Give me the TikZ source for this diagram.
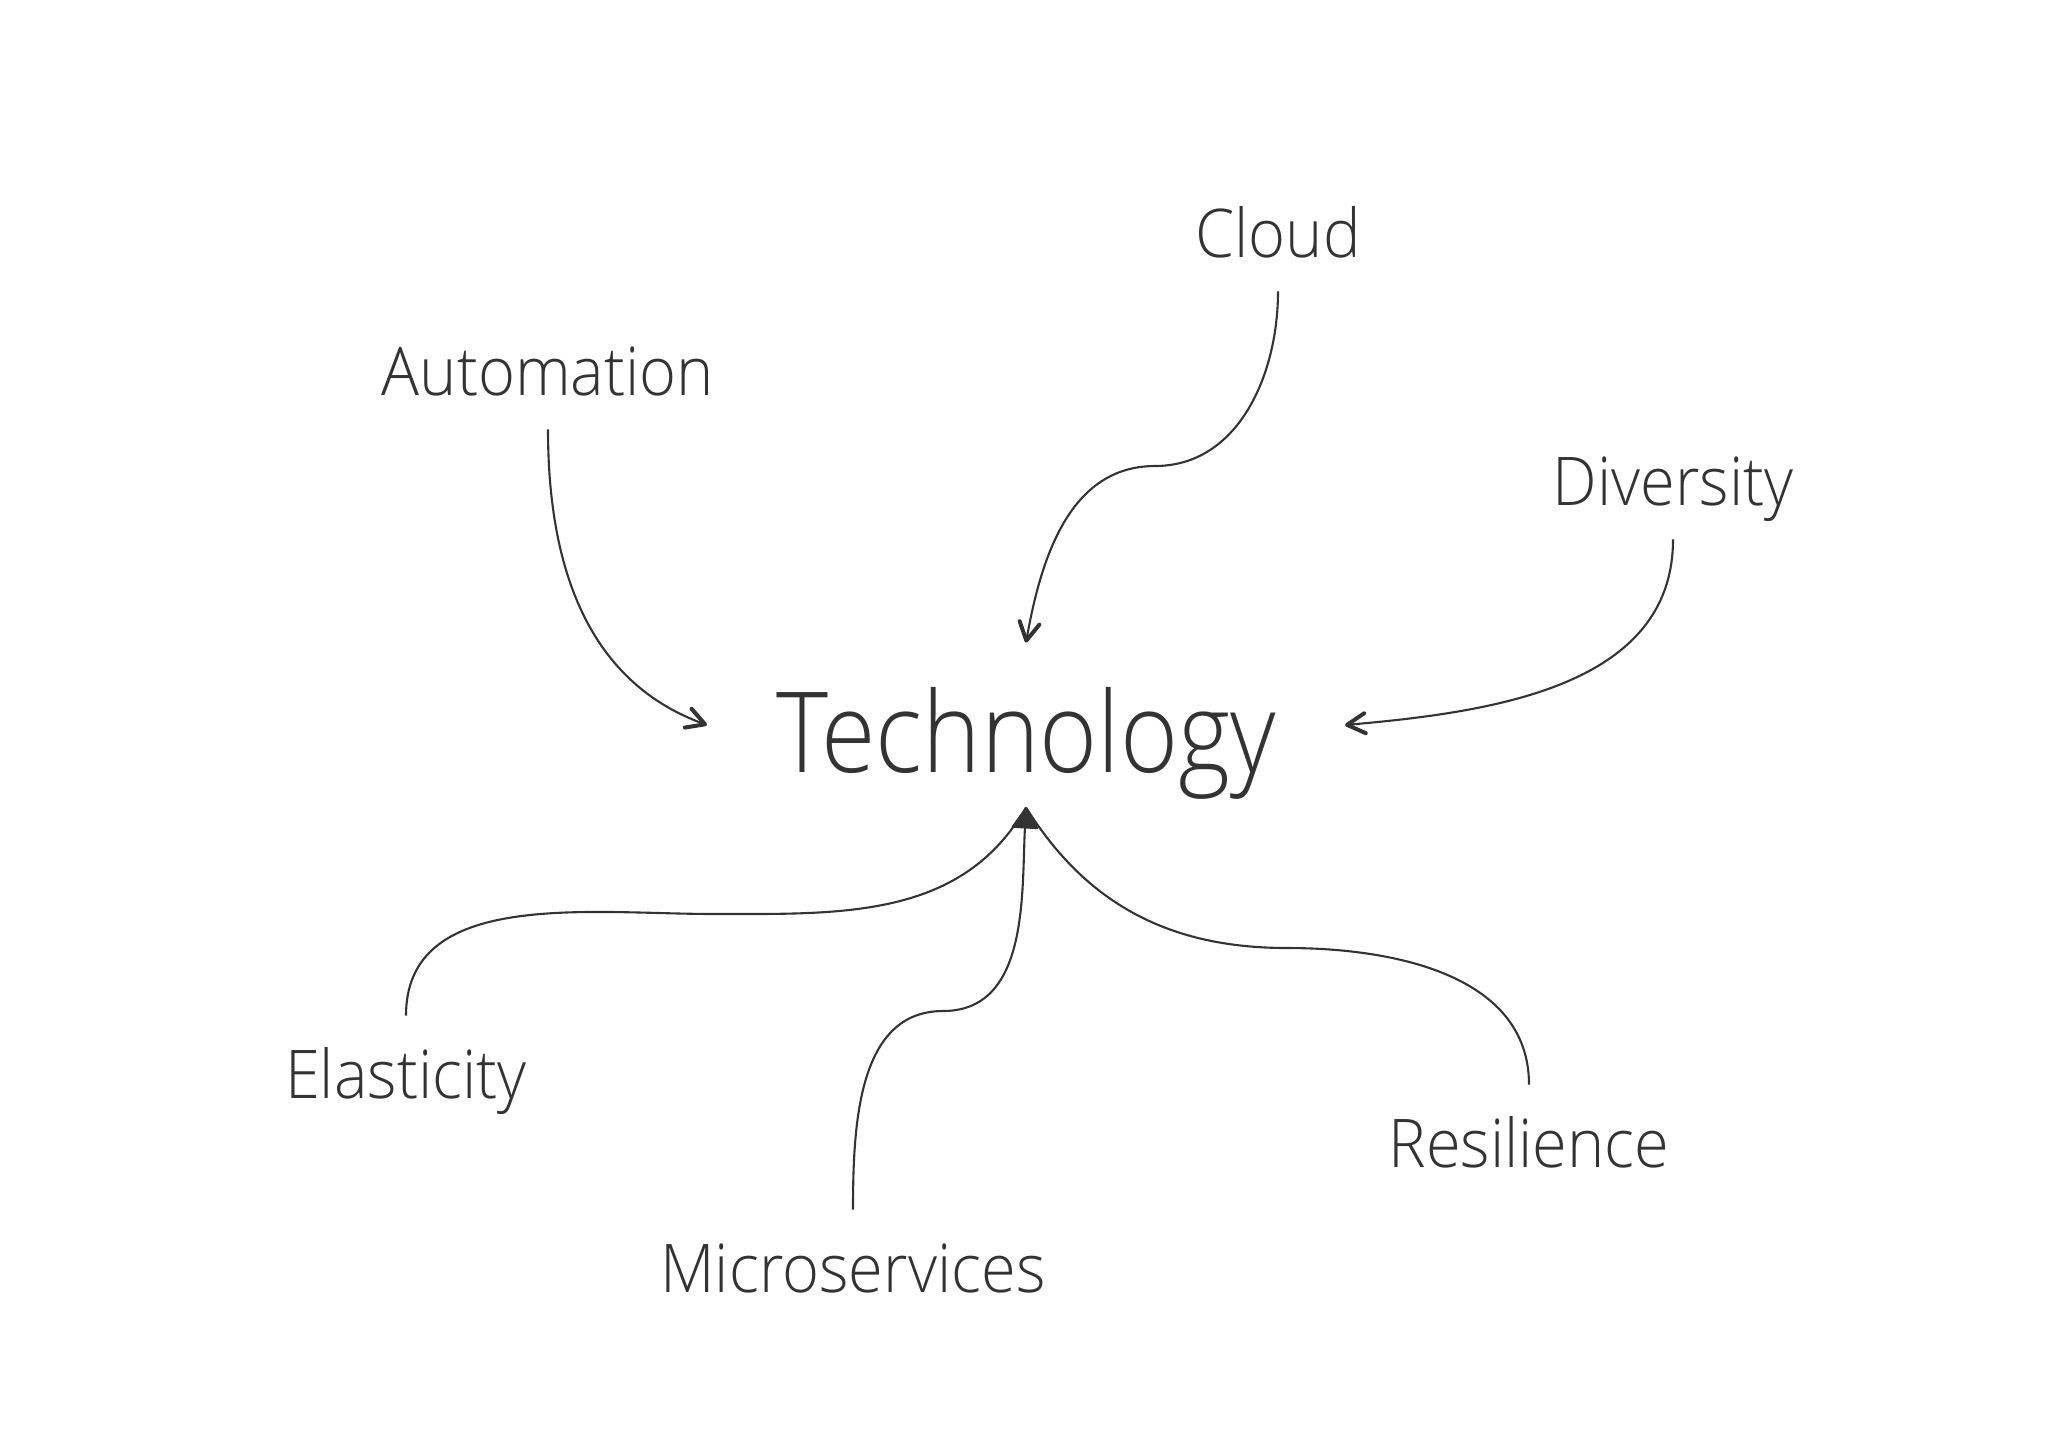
\documentclass[tikz,border=0pt]{standalone}
\usepackage{fontspec}
\IfFontExistsTF{Open Sans Light}
  {\setmainfont{Open Sans Light}[FakeStretch=0.94]
   \newfontfamily\techfont{Open Sans Light}[FakeStretch=0.885]}
  {\setmainfont{Open Sans}[FakeStretch=0.94]
   \newfontfamily\techfont{Open Sans}[FakeStretch=0.885]}
\usetikzlibrary{arrows.meta}
\definecolor{ink}{HTML}{333333}

\begin{document}
\begin{tikzpicture}[x=0.5pt,y=-0.5pt,
  lbl/.style={anchor=base,text=ink,font=\fontsize{33.6}{40}\selectfont,
    text height=24pt,text depth=0pt,inner xsep=0pt,inner ysep=17pt},
  link/.style={draw=ink,line width=1.05pt},
  barb/.style={-{Straight Barb[length=9pt,width=10pt,line width=2pt,round]}},
  head/.style={-{Triangle[length=11pt,width=14pt,round]}}]

\useasboundingbox (0,0) rectangle (2048,1447);

% The topic in the middle
\node[anchor=base,text=ink,font=\techfont\fontsize{56}{66}\selectfont,
  text height=47pt,text depth=0pt,inner xsep=34.5pt,inner ysep=17.5pt]
  (tech) at (1026,772) {Technology};

% What feeds into it
\node[lbl] (auto) at (548,395) {Automation};
\node[lbl] (cloud) at (1278,257) {Cloud};
\node[lbl] (div) at (1673,505) {Diversity};
\node[lbl] (elas) at (406,1098) {Elasticity};
\node[lbl] (micro) at (853,1292) {Microservices};
\node[lbl] (res) at (1529,1167) {Resilience};

% Where the S-shaped links turn
\coordinate (cloudbend) at (1155,466);
\coordinate (elasbend) at (715,914);
\coordinate (microbend) at (943,1011);
\coordinate (resbend) at (1287,948);

% Links from above
\draw[link,barb] (auto.south) to[out=-90,in=160] (tech.west);
\draw[link,barb] (cloud.south) to[out=-90,in=0] (cloudbend)
  to[out=180,in=80] (tech.north);
\draw[link,barb] (div.south) to[out=-90,in=5] (tech.east);

% Links from below, all meeting under the word
\draw[link] (elas.north) to[out=90,in=180] (elasbend)
  to[out=0,in=-120] (tech.south);
\draw[link] (res.north) to[out=90,in=0] (resbend)
  to[out=180,in=-58] (tech.south);
\draw[link,head] (micro.north) to[out=90,in=180] (microbend)
  to[out=0,in=-93] (tech.south);

\end{tikzpicture}
\end{document}
